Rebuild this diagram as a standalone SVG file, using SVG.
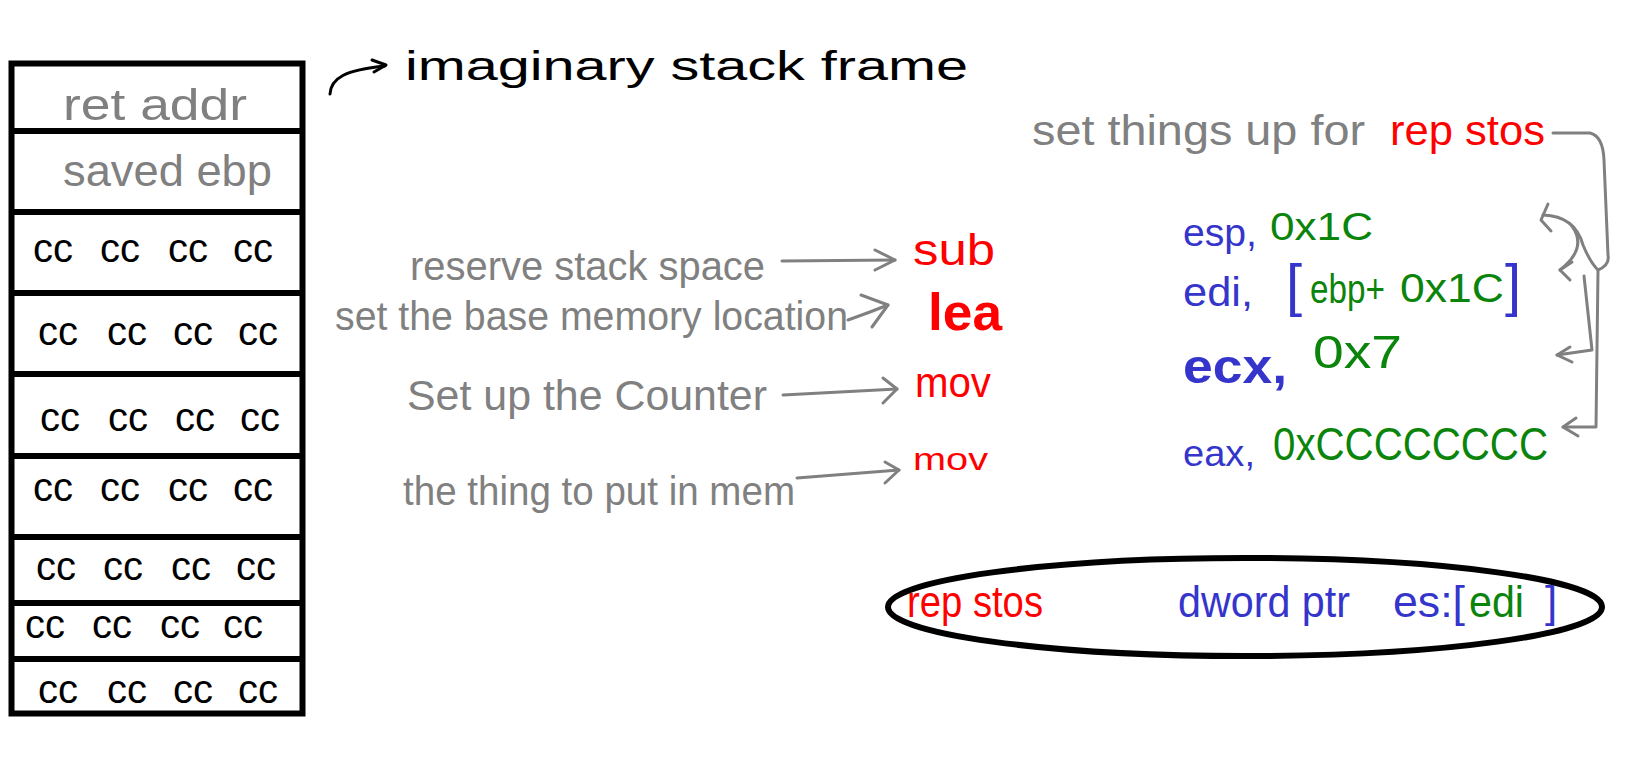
<svg xmlns="http://www.w3.org/2000/svg" width="1626" height="762" viewBox="0 0 1626 762">
<defs>
<style>
text{font-family:"Liberation Sans",Arial,sans-serif;}
.g{fill:#808080}
.k{fill:#000}
.r{fill:#ff0000}
.b{fill:#3535cc}
.gr{fill:#0b840b}
.cc{font-size:40px;fill:#000}
.ln{fill:none;stroke:#808080;stroke-width:3;stroke-linecap:round;stroke-linejoin:round}
.lk{fill:none;stroke:#000;stroke-width:3;stroke-linecap:round;stroke-linejoin:round}
.dv{stroke:#000;stroke-width:6}
</style>
</defs>
<rect width="1626" height="762" fill="#fff"/>

<g id="stack">
<rect x="11.5" y="63.5" width="291" height="650" fill="none" stroke="#000" stroke-width="6"/>
<line class="dv" x1="11" y1="131" x2="303" y2="131"/>
<line class="dv" x1="11" y1="212" x2="303" y2="212"/>
<line class="dv" x1="11" y1="293" x2="303" y2="293"/>
<line class="dv" x1="11" y1="374" x2="303" y2="374"/>
<line class="dv" x1="11" y1="456" x2="303" y2="456"/>
<line class="dv" x1="11" y1="537" x2="303" y2="537"/>
<line class="dv" x1="11" y1="603" x2="303" y2="603"/>
<line class="dv" x1="11" y1="659" x2="303" y2="659"/>
<text class="g" x="63" y="120" font-size="44" textLength="184" lengthAdjust="spacingAndGlyphs">ret addr</text>
<text class="g" x="63" y="186" font-size="44" textLength="209" lengthAdjust="spacingAndGlyphs">saved ebp</text>
<text class="cc" y="262"><tspan x="33">cc</tspan><tspan x="89"> cc</tspan><tspan x="157"> cc</tspan><tspan x="222"> cc</tspan></text>
<text class="cc" y="345"><tspan x="38">cc</tspan><tspan x="96"> cc</tspan><tspan x="162"> cc</tspan><tspan x="227"> cc</tspan></text>
<text class="cc" y="431"><tspan x="40">cc</tspan><tspan x="97"> cc</tspan><tspan x="164"> cc</tspan><tspan x="229"> cc</tspan></text>
<text class="cc" y="501"><tspan x="33">cc</tspan><tspan x="89"> cc</tspan><tspan x="157"> cc</tspan><tspan x="222"> cc</tspan></text>
<text class="cc" y="580"><tspan x="36">cc</tspan><tspan x="92"> cc</tspan><tspan x="160"> cc</tspan><tspan x="225"> cc</tspan></text>
<text class="cc" y="638"><tspan x="25">cc</tspan><tspan x="81"> cc</tspan><tspan x="149"> cc</tspan><tspan x="212"> cc</tspan></text>
<text class="cc" y="703"><tspan x="38">cc</tspan><tspan x="96"> cc</tspan><tspan x="162"> cc</tspan><tspan x="227"> cc</tspan></text>
</g>

<g id="title">
<text class="k" x="405" y="80" font-size="40" textLength="563" lengthAdjust="spacingAndGlyphs">imaginary stack frame</text>
</g>

<g id="label-reserve"><text class="g" x="410" y="280" font-size="40" textLength="355" lengthAdjust="spacingAndGlyphs">reserve stack space</text></g>
<g id="label-base"><text class="g" x="335" y="330" font-size="40" textLength="513" lengthAdjust="spacingAndGlyphs">set the base memory location</text></g>
<g id="label-counter"><text class="g" x="407" y="410" font-size="42" textLength="360" lengthAdjust="spacingAndGlyphs">Set up the Counter</text></g>
<g id="label-thing"><text class="g" x="403" y="505" font-size="40" textLength="392" lengthAdjust="spacingAndGlyphs">the thing to put in mem</text></g>

<g id="op-sub"><text class="r" x="913" y="265" font-size="44" textLength="82" lengthAdjust="spacingAndGlyphs">sub</text></g>
<g id="op-lea"><text class="r" x="928" y="330" font-size="52" font-weight="bold" textLength="74" lengthAdjust="spacingAndGlyphs">lea</text></g>
<g id="op-mov1"><text class="r" x="915" y="397" font-size="42" textLength="76" lengthAdjust="spacingAndGlyphs">mov</text></g>
<g id="op-mov2"><text class="r" x="913" y="470" font-size="32" textLength="75" lengthAdjust="spacingAndGlyphs">mov</text></g>

<g id="heading-right">
<text x="1032" y="145" font-size="42"><tspan class="g" textLength="333" lengthAdjust="spacingAndGlyphs">set things up for</tspan><tspan class="r" x="1390" textLength="155" lengthAdjust="spacingAndGlyphs">rep stos</tspan></text>
</g>

<g id="arg-esp">
<text font-size="38"><tspan class="b" x="1183" y="246" textLength="74" lengthAdjust="spacingAndGlyphs">esp,</tspan><tspan class="gr" x="1270" y="240" textLength="103" lengthAdjust="spacingAndGlyphs">0x1C</tspan></text>
</g>
<g id="arg-edi">
<text font-size="40"><tspan class="b" x="1183" y="306" textLength="70" lengthAdjust="spacingAndGlyphs">edi,</tspan><tspan class="b" x="1286" y="305" font-size="58">[</tspan><tspan class="gr" x="1310" y="303" textLength="75" lengthAdjust="spacingAndGlyphs">ebp+</tspan><tspan class="gr" x="1400" y="302" textLength="104" lengthAdjust="spacingAndGlyphs">0x1C</tspan><tspan class="b" x="1505" y="305" font-size="58">]</tspan></text>
</g>
<g id="arg-ecx">
<text><tspan class="b" x="1183" y="383" font-size="48" font-weight="bold" textLength="104" lengthAdjust="spacingAndGlyphs">ecx,</tspan><tspan class="gr" x="1313" y="368" font-size="46" textLength="89" lengthAdjust="spacingAndGlyphs">0x7</tspan></text>
</g>
<g id="arg-eax">
<text><tspan class="b" x="1183" y="466" font-size="36" textLength="72" lengthAdjust="spacingAndGlyphs">eax,</tspan><tspan class="gr" x="1273" y="460" font-size="46" textLength="275" lengthAdjust="spacingAndGlyphs">0xCCCCCCCC</tspan></text>
</g>

<g id="instruction">
<ellipse cx="1245" cy="607" rx="357" ry="49" fill="none" stroke="#000" stroke-width="6"/>
<text y="617" font-size="44"><tspan class="r" x="907" textLength="136" lengthAdjust="spacingAndGlyphs">rep stos</tspan><tspan class="b" x="1178" textLength="172" lengthAdjust="spacingAndGlyphs">dword ptr</tspan><tspan class="b" x="1393" textLength="72" lengthAdjust="spacingAndGlyphs">es:[</tspan><tspan class="gr" x="1469" textLength="55" lengthAdjust="spacingAndGlyphs">edi</tspan><tspan class="b" x="1545">]</tspan></text>
</g>

<g id="connectors">
<path class="lk" d="M330,94 C331,78 345,70 385,66"/>
<path class="lk" d="M372,60 L386,65 L374,72"/>
<path class="ln" d="M782,261 L895,260"/>
<path class="ln" d="M875,250 L895,260 L875,270"/>
<path class="ln" d="M848,320 Q868,313 888,305"/>
<path class="ln" d="M861,295 L888,305 L872,327"/>
<path class="ln" d="M783,395 L897,389"/>
<path class="ln" d="M883,378 L897,389 L883,403"/>
<path class="ln" d="M797,478 L899,470"/>
<path class="ln" d="M885,462 L899,470 L885,483"/>
<path class="ln" d="M1553,133 L1590,133 Q1603,136 1604,160 L1608,255 Q1610,265 1598,270 L1596,427 L1563,427"/>
<path class="ln" d="M1576,418 L1563,427 L1578,436"/>
<path class="ln" d="M1543,215 Q1575,216 1583,245 Q1590,262 1598,270"/>
<path class="ln" d="M1548,204 L1541,220 L1551,231"/>
<path class="ln" d="M1572,226 Q1588,248 1560,270"/>
<path class="ln" d="M1572,262 L1560,270 L1570,280"/>
<path class="ln" d="M1584,276 L1592,350 L1557,355"/>
<path class="ln" d="M1570,347 L1557,355 L1572,362"/>
</g>
</svg>
